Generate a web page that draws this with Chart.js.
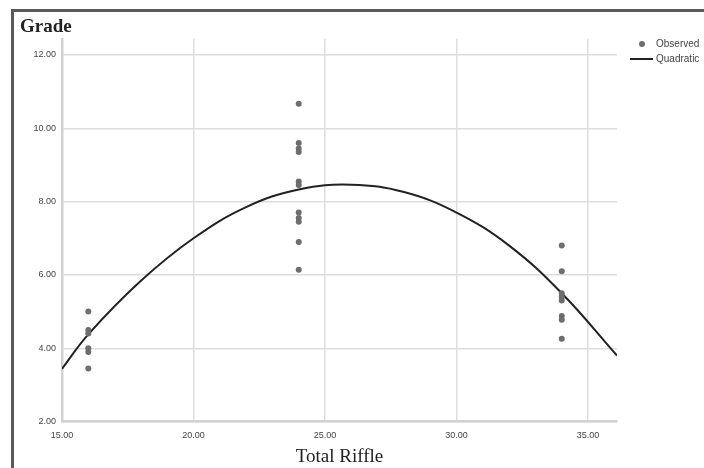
<!DOCTYPE html>
<html>
<head>
<meta charset="utf-8">
<script src="https://cdn.jsdelivr.net/npm/chart.js@4"></script>
<style>
  html, body { margin: 0; padding: 0; background: #fff; overflow: hidden; }
  #wrap { position: relative; width: 704px; height: 468px; }
  #frame { position: absolute; left: 11px; top: 9px; right: -10px; bottom: -10px;
           border-left: 3px solid #5a5a5a; border-top: 3px solid #5a5a5a; pointer-events: none; }
  #legend { position: absolute; left: 628px; top: 36px; font: 10px "Liberation Sans", Arial, sans-serif; color: #444; white-space: nowrap; }
  .item { position: relative; height: 15px; line-height: 15px; padding-left: 28px; }
  .dot { position: absolute; left: 11px; top: 4.5px; width: 6px; height: 6px; border-radius: 50%; background: #6e6e6e; }
  .ln { position: absolute; left: 2px; top: 6.5px; width: 23px; height: 2px; background: #222; }
</style>
</head>
<body>
<div id="wrap">
  <canvas id="c" width="704" height="468"></canvas>
  <div id="frame"></div>
  <div id="legend">
    <div class="item"><span class="dot"></span>Observed</div>
    <div class="item"><span class="ln"></span>Quadratic</div>
  </div>
</div>
<script>
// ---- data ----
const groupX = [16, 24, 34];
const obsAt16 = [5.0, 4.5, 4.4, 4.0, 3.9, 3.45];
const obsAt24 = [10.67, 9.6, 9.45, 9.35, 8.55, 8.45, 7.7, 7.55, 7.45, 6.9, 6.14];
const obsAt34 = [6.8, 6.1, 5.5, 5.4, 5.3, 4.88, 4.78, 4.26];
const curveX = [15, 16, 18, 20, 22, 24, 26, 28, 30, 32, 34, 36.1];
const curveY = [3.44, 4.38, 5.84, 7.00, 7.85, 8.33, 8.46, 8.26, 7.70, 6.80, 5.50, 3.80];
const xTicks = [15, 20, 25, 30, 35];
const yTicks = [2, 4, 6, 8, 10, 12];
const seriesNames = ['Observed', 'Quadratic'];

const observed = [];
[obsAt16, obsAt24, obsAt34].forEach((vals, i) => vals.forEach(v => observed.push({x: groupX[i], y: v})));
const curve = curveX.map((x, i) => ({x, y: curveY[i]}));

const tickFont = {family: '"Liberation Sans", Arial, sans-serif', size: 9};
const serif = {family: '"Liberation Serif", "Times New Roman", serif', size: 19};

new Chart(document.getElementById('c'), {
  type: 'scatter',
  data: {
    datasets: [
      { label: seriesNames[0], data: observed, backgroundColor: '#6e6e6e', borderWidth: 0, pointRadius: 3, pointHoverRadius: 3 },
      { label: seriesNames[1], data: curve, showLine: true, borderColor: '#222', borderWidth: 2,
        pointRadius: 0, tension: 0.4, fill: false }
    ]
  },
  options: {
    responsive: false,
    animation: false,
    events: [],
    layout: { padding: { left: 20, right: 87, top: 0, bottom: 0 } },
    plugins: {
      legend: { display: false },
      tooltip: { enabled: false },
      title: { display: true, text: 'Grade', align: 'start', color: '#222', font: serif, padding: { top: 16, bottom: 0 } }
    },
    scales: {
      x: {
        type: 'linear', min: 15, max: 36.1,
        afterBuildTicks: s => { s.ticks = xTicks.map(v => ({value: v})); },
        afterFit: s => { s.height = 46.4; },
        ticks: { font: tickFont, color: '#444', padding: 9, maxRotation: 0, callback: v => Number(v).toFixed(2) },
        grid: { color: '#dedede', lineWidth: 1.5, drawTicks: false },
        border: { color: '#d2d2d2', width: 2.5 },
        title: { display: true, text: 'Total Riffle', color: '#222', font: serif, padding: { top: 0, bottom: 0 } }
      },
      y: {
        type: 'linear', min: 2, max: 12.44,
        afterBuildTicks: s => { s.ticks = yTicks.map(v => ({value: v})); },
        afterFit: s => { s.width = 42; },
        ticks: { font: tickFont, color: '#444', padding: 6, callback: v => Number(v).toFixed(2) },
        grid: { color: '#dedede', lineWidth: 1.5, drawTicks: false },
        border: { color: '#d2d2d2', width: 2.5 }
      }
    }
  }
});
</script>
</body>
</html>
